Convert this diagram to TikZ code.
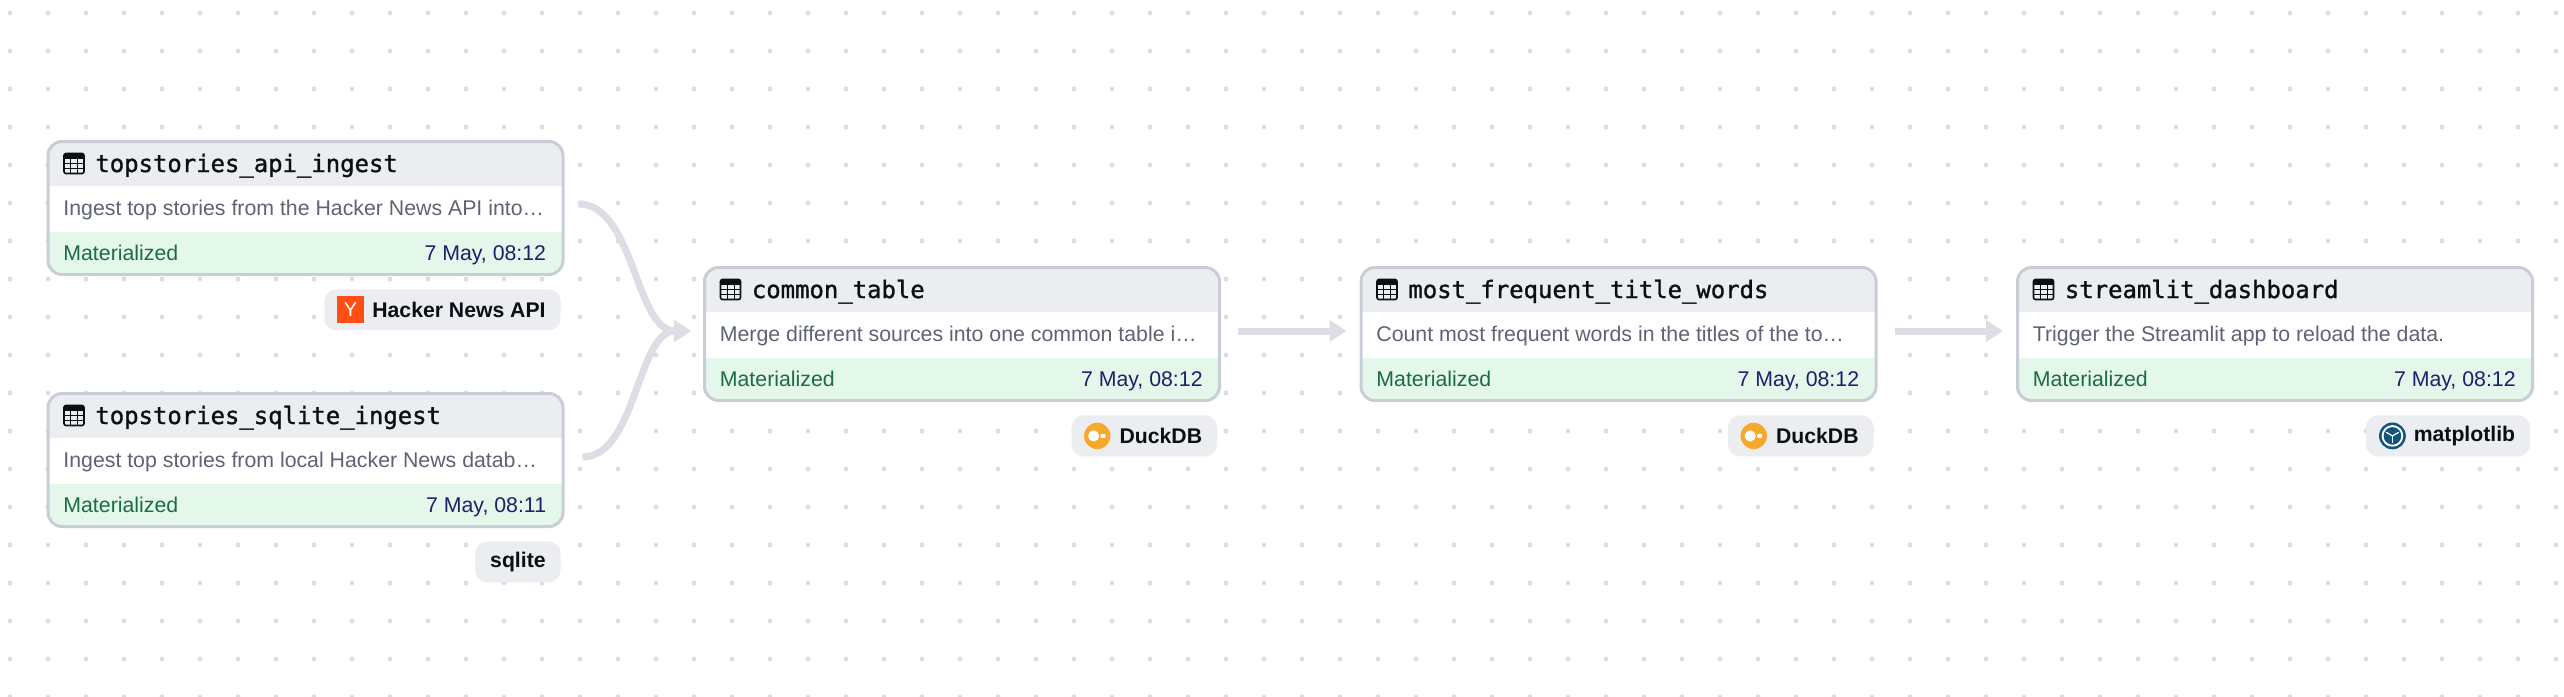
\documentclass[tikz,border=0pt]{standalone}
\usepackage{fontspec}
\setmainfont{Liberation Sans}
\newfontfamily\titlefont[RawFeature={embolden=1.2}]{DejaVu Sans Mono}
\usetikzlibrary{arrows.meta}

\definecolor{griddot}{HTML}{DADCE3}
\definecolor{cardline}{HTML}{C9CDD6}
\definecolor{headfill}{HTML}{ECEDF1}
\definecolor{donefill}{HTML}{E3F7EA}
\definecolor{flowline}{HTML}{DCDDE5}
\definecolor{inkdark}{HTML}{0C0E16}
\definecolor{inkgrey}{HTML}{5E6375}
\definecolor{inkgreen}{HTML}{1E6A45}
\definecolor{inknavy}{HTML}{1C1F6C}
\definecolor{hackerorange}{HTML}{FF4F14}
\definecolor{duckorange}{HTML}{F8A72D}
\definecolor{plotblue}{HTML}{11557C}

\newcommand{\assetcard}[5]{
    \node[card] (#1) at #2 {};
    \pic at ([shift={(-115.75pt,22.25pt)}]#1.center) {tableicon};
    \node[cardtitle] (#1title) at ([shift={(-105.25pt,18pt)}]#1.center) {#3};
    \node[carddesc] (#1desc) at ([shift={(-121.25pt,-3.5pt)}]#1.center) {#4};
    \node[cardstate] (#1state) at ([shift={(-121.25pt,-26pt)}]#1.center) {Materialized};
    \node[cardtime] (#1time) at ([shift={(120.5pt,-26pt)}]#1.center) {#5};
}
\newcommand{\assettag}[3]{
    \node[tagbox] (#1) at ([shift={(-1.75pt,-6.5pt)}]#2.south east) {#3};
}

\begin{document}
\begin{tikzpicture}[
        x                       = 0.5pt,
        y                       = -0.5pt,
        card/.style             = {draw=cardline, line width=1.5pt, fill=white, rounded corners=7pt,
                                   minimum width=257.5pt, minimum height=66.5pt, inner sep=0pt,
                                   path picture={
                                       \fill[headfill, sharp corners] (path picture bounding box.north west)
                                           rectangle ([yshift=-22.25pt]path picture bounding box.north east);
                                       \fill[donefill, sharp corners] (path picture bounding box.south west)
                                           rectangle ([yshift=21.25pt]path picture bounding box.south east);
                                   }},
        cardtitle/.style        = {anchor=base west, inner sep=0pt, text=inkdark, font=\titlefont\fontsize{11.96}{14}\selectfont},
        carddesc/.style         = {anchor=base west, inner sep=0pt, text=inkgrey, font=\fontsize{10.65}{12}\selectfont},
        cardstate/.style        = {anchor=base west, inner sep=0pt, text=inkgreen, font=\fontsize{10.65}{12}\selectfont},
        cardtime/.style         = {anchor=base east, inner sep=0pt, text=inknavy, font=\fontsize{10.65}{12}\selectfont},
        tagbox/.style           = {anchor=north east, fill=headfill, rounded corners=6pt, minimum height=20.5pt,
                                   inner xsep=7.5pt, inner ysep=0pt, text=inkdark, font=\bfseries\fontsize{10.6}{12}\selectfont},
        iconbox/.style          = {fill=hackerorange, minimum size=13.5pt, inner sep=0pt, text=white, font=\fontsize{10}{12}\selectfont},
        flow/.style             = {draw=flowline, line width=3.5pt, -{Triangle[length=8.5pt,width=10.5pt]}},
        tableicon/.pic          = {
            \draw[inkdark, line width=0.8pt, rounded corners=1pt] (-10,-10) rectangle (10,10);
            \fill[inkdark] (-10,-10) rectangle (10,-5);
            \draw[inkdark, line width=0.45pt] (-10,0) -- (10,0) (-10,5) -- (10,5) (-3.5,-5) -- (-3.5,10) (3.5,-5) -- (3.5,10);
        },
      ]
        \useasboundingbox (0,0) rectangle (2564,696);
        \fill[white] (0,0) rectangle (2564,696);
        \clip (0,0) rectangle (2564,696);

        \foreach \i in {0,...,67}
            \foreach \j in {0,...,18}
                \fill[griddot] (10+38*\i,13+38*\j) circle (1.2pt);

        \assetcard{apiingest}{(305.5,208)}{topstories\_api\_ingest}{Ingest top stories from the Hacker News API into…}{7 May, 08:12}
        \assetcard{sqliteingest}{(305.5,460)}{topstories\_sqlite\_ingest}{Ingest top stories from local Hacker News datab…}{7 May, 08:11}
        \assetcard{commontable}{(962,334)}{common\_table}{Merge different sources into one common table i…}{7 May, 08:12}
        \assetcard{titlewords}{(1618.5,334)}{most\_frequent\_title\_words}{Count most frequent words in the titles of the to…}{7 May, 08:12}
        \assetcard{dashboard}{(2275,334)}{streamlit\_dashboard}{Trigger the Streamlit app to reload the data.}{7 May, 08:12}

        \assettag{hackertag}{apiingest}{\hspace*{16.5pt}Hacker News API}
        \assettag{sqlitetag}{sqliteingest}{sqlite}
        \assettag{ducktag}{commontable}{\hspace*{16.5pt}DuckDB}
        \assettag{ducktagb}{titlewords}{\hspace*{16.5pt}DuckDB}
        \assettag{plottag}{dashboard}{\hspace*{16.5pt}matplotlib}

        % tag icons
        \node[iconbox] (hackerlogo) at ([xshift=13.25pt]hackertag.west) {Y};
        \foreach \t in {ducktag,ducktagb} {
            \fill[duckorange] ([xshift=13pt]\t.west) circle (6.6pt);
            \fill[white] ([xshift=11.2pt]\t.west) circle (2.8pt);
            \fill[white, rounded corners=0.5pt] ([shift={(14.7pt,1pt)}]\t.west) rectangle ++(5,4);
        }
        \fill[plotblue] ([xshift=13.5pt]plottag.west) circle (6.7pt);
        \fill[white] ([xshift=13.5pt]plottag.west) circle (5.4pt);
        \fill[plotblue] ([xshift=13.5pt]plottag.west) circle (4.4pt);
        \foreach \a in {30,150,270}
            \draw[white, line width=0.6pt] ([xshift=13.5pt]plottag.west) -- ++(\a:3.6pt);

        \draw[flow] ([shift={(7pt,2pt)}]apiingest.east) .. controls +(56,0) and +(-56,0) .. ([shift={(-6pt,1.5pt)}]commontable.west);
        \draw[flow] ([shift={(9pt,1.5pt)}]sqliteingest.east) .. controls +(54,0) and +(-54,0) .. ([shift={(-6pt,1.5pt)}]commontable.west);
        \draw[flow, shorten <=8.5pt, shorten >=6.5pt] ([yshift=1.5pt]commontable.east) -- ([yshift=1.5pt]titlewords.west);
        \draw[flow, shorten <=8.5pt, shorten >=6.5pt] ([yshift=1.5pt]titlewords.east) -- ([yshift=1.5pt]dashboard.west);
    \end{tikzpicture}
\end{document}
